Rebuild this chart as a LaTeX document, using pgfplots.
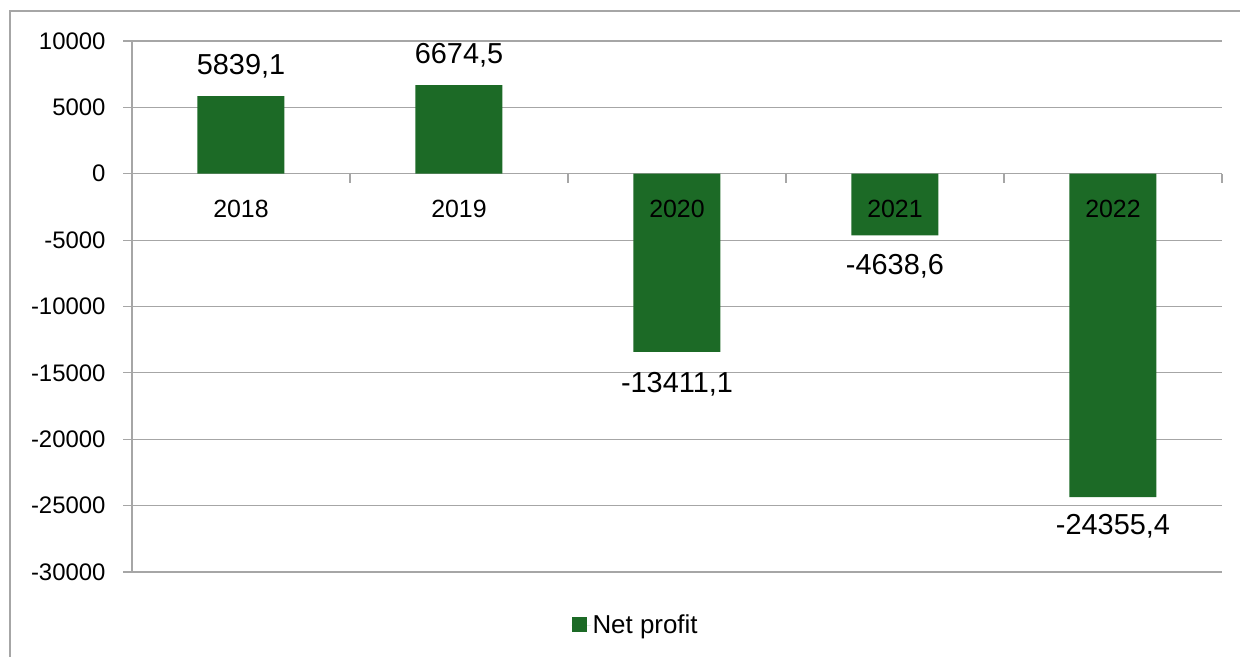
\documentclass[border=0pt]{standalone}
\usepackage{fontspec}
\setmainfont{Liberation Sans}
\usepackage{pgfplots}
\pgfplotsset{compat=1.18}
\definecolor{bargreen}{RGB}{28,106,38}
\definecolor{gridgray}{RGB}{166,166,166}
\begin{document}
\begin{tikzpicture}
\useasboundingbox (0,0) rectangle (1240bp,657bp);
\draw[gridgray, line width=1.2bp] (10bp,0) -- (10bp,646bp) -- (1240bp,646bp);
\begin{axis}[
  at={(132bp,85bp)}, anchor=south west,
  scale only axis, width=1090bp, height=531bp,
  xmin=-0.5, xmax=4.5, ymin=-30000, ymax=10000,
  axis x line*=middle, axis y line*=left,
  xtick={-0.5,0.5,1.5,2.5,3.5,4.5}, xticklabels={},
  ytick={-30000,-25000,-20000,-15000,-10000,-5000,0,5000,10000},
  scaled y ticks=false,
  /pgf/number format/1000 sep={},
  /pgf/number format/assume math mode=true,
  ymajorgrids, grid style={gridgray, line width=1.2bp},
  axis line style={gridgray, line width=1.2bp, -},
  major tick style={gridgray, line width=1.2bp},
  major tick length=9bp,
  tick align=outside,
  ytick pos=left,
  ticklabel style={font=\fontsize{24}{28}\selectfont, text=black},
  yticklabel style={xshift=-14bp},
  legend style={draw=none, at={(0.462,-0.1)}, anchor=center,
    font=\fontsize{26}{30}\selectfont},
  legend image code/.code={\fill[bargreen] (0bp,-7bp) rectangle (15bp,8bp); \path (0bp,0bp) -- (19bp,0bp);},
  clip=false,
]
\addplot[ybar, bar width=87bp, fill=bargreen, draw=none]
  coordinates {(0,5839.1) (1,6674.5) (2,-13411.1) (3,-4638.6) (4,-24355.4)};
\addlegendentry{Net profit}
\node[font=\fontsize{25}{30}\selectfont] at (axis cs:0,0) [yshift=-35bp] {2018};
\node[font=\fontsize{25}{30}\selectfont] at (axis cs:1,0) [yshift=-35bp] {2019};
\node[font=\fontsize{25}{30}\selectfont] at (axis cs:2,0) [yshift=-35bp] {2020};
\node[font=\fontsize{25}{30}\selectfont] at (axis cs:3,0) [yshift=-35bp] {2021};
\node[font=\fontsize{25}{30}\selectfont] at (axis cs:4,0) [yshift=-35bp] {2022};
\node[font=\fontsize{29}{34}\selectfont] at (axis cs:0,5839.1) [yshift=30bp] {5839,1};
\node[font=\fontsize{29}{34}\selectfont] at (axis cs:1,6674.5) [yshift=30bp] {6674,5};
\node[font=\fontsize{29}{34}\selectfont] at (axis cs:2,-13411.1) [yshift=-32bp] {-13411,1};
\node[font=\fontsize{29}{34}\selectfont] at (axis cs:3,-4638.6) [yshift=-31bp] {-4638,6};
\node[font=\fontsize{29}{34}\selectfont] at (axis cs:4,-24355.4) [yshift=-29bp] {-24355,4};
\end{axis}
\end{tikzpicture}
\end{document}
